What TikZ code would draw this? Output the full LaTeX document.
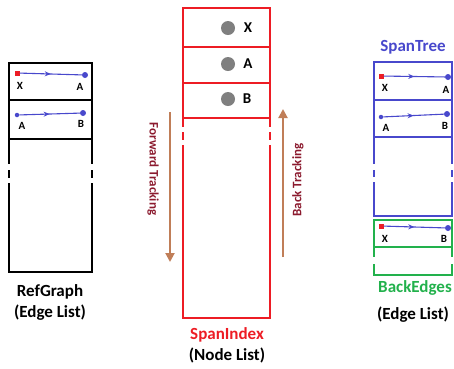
\documentclass[tikz,border=0pt]{standalone}
\usepackage{fontspec}
\setmainfont{Carlito}
\usetikzlibrary{arrows.meta,decorations.markings}
\definecolor{spanred}{HTML}{ED1C24}
\definecolor{treeblue}{HTML}{4848CC}
\definecolor{backgreen}{HTML}{22B14C}
\definecolor{trackbrown}{HTML}{C07E58}
\definecolor{trackred}{HTML}{8B1A2E}
\definecolor{dotgray}{HTML}{7F7F7F}
\begin{document}
\begin{tikzpicture}[x=1pt, y=-1pt,
  box/.style={line width=2.7pt, line cap=rect},
  edge/.style={treeblue, line width=1.1pt, postaction={decorate},
    decoration={markings, mark=at position 0.5 with {\arrow{Stealth[length=6pt, width=5pt]}}}},
  root/.style={rectangle, fill=spanred, inner sep=0pt, minimum size=5pt},
  tip/.style={circle, fill=treeblue, inner sep=0pt, minimum size=#1},
  tip/.default=6pt,
  small/.style={font=\fontsize{11}{13}\selectfont\bfseries},
  big/.style={font=\fontsize{17}{20}\selectfont\bfseries},
  track/.style={trackbrown, line width=2pt, -{Triangle[length=9pt, width=9pt]}},
  tracktext/.style={trackred, font=\fontsize{13}{15}\selectfont\bfseries}]

\useasboundingbox (0,0) rectangle (454,368);

% draw RefGraph box
\foreach \y in {63,100,139,272} \draw[box] (9,\y) -- (92,\y);
\foreach \x in {9,92} \draw[box] (\x,63) -- (\x,163) (\x,171) -- (\x,177) (\x,184) -- (\x,272);

% draw SpanIndex box
\foreach \y in {8,47,83,118,318} \draw[box, spanred] (183,\y) -- (270,\y);
\foreach \x in {183,270} \draw[box, spanred] (\x,8) -- (\x,126) (\x,133) -- (\x,139) (\x,146) -- (\x,318);

% draw SpanTree box
\foreach \y in {62,100,137,216} \draw[box, treeblue] (374,\y) -- (452,\y);
\foreach \x in {374,452} \draw[box, treeblue] (\x,62) -- (\x,163) (\x,171) -- (\x,176) (\x,183) -- (\x,216);

% draw BackEdges box
\foreach \y in {220,247,275} \draw[box, backgreen] (374,\y) -- (452,\y);
\foreach \x in {374,452} \draw[box, backgreen] (\x,220) -- (\x,256) (\x,265) -- (\x,275);

% edges of RefGraph
\node[root] (rx) at (17,73) {};
\node[tip] (ra) at (85,75) {};
\draw[edge] (rx) -- (ra);
\node[small] (rxl) at (20,86) {X};
\node[small] (ral) at (80,87) {A};
\node[tip=4.5pt] (ra2) at (17,115) {};
\node[tip] (rb) at (83,113) {};
\draw[edge] (ra2) -- (rb);
\node[small] (ra2l) at (22,126) {A};
\node[small] (rbl) at (81,124) {B};

% nodes of SpanIndex
\foreach \n/\y in {x/28,a/64,b/99} \fill[dotgray] (228,\y) circle (7pt);
\node[big, font=\fontsize{15}{18}\selectfont\bfseries] (ix) at (248,28) {X};
\node[big, font=\fontsize{15}{18}\selectfont\bfseries] (ia) at (248,64) {A};
\node[big, font=\fontsize{15}{18}\selectfont\bfseries] (ib) at (247,99) {B};

% edges of SpanTree
\node[root] (tx) at (381,76) {};
\node[tip] (ta) at (448,77) {};
\draw[edge] (tx) -- (ta);
\node[small] (txl) at (385,88) {X};
\node[small] (tal) at (446,90) {A};
\node[tip=4.5pt] (ta2) at (381,117) {};
\node[tip] (tb) at (447,114) {};
\draw[edge] (ta2) -- (tb);
\node[small] (ta2l) at (386,128) {A};
\node[small] (tbl) at (445,126) {B};

% edge of BackEdges
\node[root] (bx) at (381,226) {};
\node[tip] (bb) at (448,228) {};
\draw[edge] (bx) -- (bb);
\node[small] (bxl) at (385,239) {X};
\node[small] (bbl) at (444,239) {B};

% tracking arrows
\coordinate (fwdtop) at (170,112);
\coordinate (fwdbot) at (170,262);
\draw[track] (fwdtop) -- (fwdbot);
\node[tracktext, rotate=-90] (fwd) at (153,169) {Forward Tracking};
\coordinate (backbot) at (283,257);
\coordinate (backtop) at (283,109);
\draw[track] (backbot) -- (backtop);
\node[tracktext, rotate=90] (back) at (298,180) {Back Tracking};

% captions
\node[big] (refcap) at (50,292) {RefGraph};
\node[big] (refsub) at (50,313) {(Edge List)};
\node[big, spanred] (idxcap) at (227,335) {SpanIndex};
\node[big] (idxsub) at (227,355) {(Node List)};
\node[big, treeblue] (treecap) at (413,47) {SpanTree};
\node[big, backgreen] (backcap) at (415,288) {BackEdges};
\node[big] (backsub) at (413,315) {(Edge List)};

\end{tikzpicture}
\end{document}
